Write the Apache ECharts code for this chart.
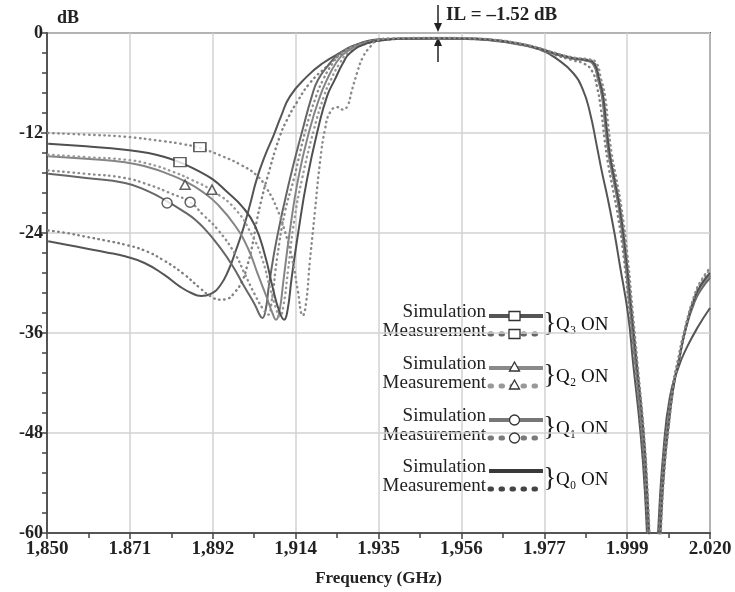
<!DOCTYPE html>
<html>
<head>
<meta charset="utf-8">
<script src="https://cdn.jsdelivr.net/npm/echarts@6/dist/echarts.min.js"></script>
<style>html,body{margin:0;padding:0;background:#fff;}#chart{width:735px;height:592px;}</style>
</head>
<body>
<div id="chart"></div>
<script>
// ---- tick labels ----
const xTickLabels = ['1,850','1.871','1,892','1,914','1.935','1,956','1.977','1.999','2.020'];
const xMin = 1.850, xMax = 2.020;
const yMin = -60, yMax = 0, yStep = 12;

// ---- series data: [frequency GHz, dB] ----
const q3Sim = [[1.8503,-13.3],[1.8600,-13.6],[1.8700,-14.0],[1.8760,-14.4],[1.8810,-15.0],[1.8850,-15.7],[1.8890,-16.6],[1.8926,-17.6],[1.8960,-19.0],[1.9000,-20.8],[1.9033,-23.1],[1.9059,-26.7],[1.9079,-30.6],[1.9095,-33.3],[1.9108,-34.4],[1.9117,-33.2],[1.9127,-29.5],[1.9144,-24.0],[1.9167,-17.5],[1.9195,-11.5],[1.9218,-7.6],[1.9238,-5.6],[1.9259,-3.6],[1.9277,-2.4],[1.9320,-1.25],[1.9370,-0.8],[1.9400,-0.7],[1.9500,-0.63],[1.9600,-0.7],[1.9650,-0.87],[1.9700,-1.2],[1.9750,-1.7],[1.9800,-2.42],[1.9850,-3.02],[1.9883,-3.25],[1.9903,-3.65],[1.9916,-5.6],[1.9926,-7.6],[1.9934,-11.0],[1.9943,-14.5],[1.9955,-17.5],[1.9969,-21.0],[1.9984,-26.5],[1.9998,-33.0],[2.0013,-40.0],[2.0029,-47.6],[2.0039,-55.0],[2.0048,-66],[2.0058,-85],[2.0068,-66],[2.0074,-59],[2.0083,-52],[2.0094,-47],[2.0107,-42.3],[2.0120,-39.4],[2.0138,-35.4],[2.0162,-31.6],[2.0180,-30.0],[2.0200,-28.8]];
const q3Meas = [[1.8503,-12.0],[1.8600,-12.2],[1.8700,-12.45],[1.8800,-13.0],[1.8850,-13.35],[1.8892,-13.8],[1.8950,-14.8],[1.9000,-15.9],[1.9038,-17.1],[1.9064,-18.7],[1.9090,-21.1],[1.9110,-23.8],[1.9130,-27.4],[1.9143,-30.9],[1.9156,-33.9],[1.9164,-32.5],[1.9174,-27.4],[1.9187,-21.4],[1.9200,-15.5],[1.9213,-11.5],[1.9226,-9.5],[1.9244,-8.9],[1.9259,-9.2],[1.9272,-8.6],[1.9280,-7.2],[1.9295,-4.8],[1.9310,-2.9],[1.9328,-1.7],[1.9346,-0.9],[1.9380,-0.66],[1.9500,-0.6],[1.9600,-0.66],[1.9650,-0.83],[1.9700,-1.15],[1.9750,-1.65],[1.9800,-2.35],[1.9850,-2.95],[1.9887,-3.15],[1.9907,-3.5],[1.9921,-5.6],[1.9931,-7.6],[1.9939,-11.0],[1.9948,-14.5],[1.9960,-17.5],[1.9973,-21.0],[1.9988,-26.5],[2.0001,-33.0],[2.0015,-40.0],[2.0030,-47.6],[2.0040,-55.0],[2.0049,-66],[2.0059,-85],[2.0069,-66],[2.0075,-59],[2.0084,-52],[2.0095,-47],[2.0108,-42.0],[2.0121,-39.0],[2.0139,-35.0],[2.0162,-31.2],[2.0180,-29.5],[2.0200,-28.2]];
const q2Sim = [[1.8503,-14.8],[1.8600,-15.1],[1.8700,-15.5],[1.8760,-16.1],[1.8810,-16.9],[1.8854,-17.8],[1.8900,-19.1],[1.8938,-20.6],[1.8982,-23.1],[1.9015,-25.8],[1.9041,-29.0],[1.9064,-31.8],[1.9078,-33.6],[1.9087,-34.4],[1.9096,-33.4],[1.9106,-29.8],[1.9122,-24.0],[1.9144,-17.5],[1.9174,-11.5],[1.9200,-7.6],[1.9218,-5.6],[1.9241,-3.6],[1.9264,-2.4],[1.9310,-1.3],[1.9360,-0.82],[1.9400,-0.7],[1.9500,-0.64],[1.9600,-0.7],[1.9650,-0.88],[1.9700,-1.22],[1.9750,-1.72],[1.9800,-2.45],[1.9850,-3.05],[1.9881,-3.28],[1.9901,-3.7],[1.9914,-5.6],[1.9924,-7.6],[1.9932,-11.0],[1.9941,-14.5],[1.9953,-17.5],[1.9967,-21.0],[1.9982,-26.5],[1.9996,-33.0],[2.0011,-40.0],[2.0027,-47.6],[2.0038,-55.0],[2.0047,-66],[2.0057,-85],[2.0067,-66],[2.0073,-59],[2.0082,-52],[2.0093,-47],[2.0106,-42.4],[2.0119,-39.5],[2.0137,-35.6],[2.0161,-31.8],[2.0180,-30.2],[2.0200,-29.0]];
const q2Meas = [[1.8503,-14.6],[1.8600,-14.9],[1.8700,-15.2],[1.8760,-15.7],[1.8820,-16.6],[1.8870,-17.6],[1.8923,-18.9],[1.8982,-21.1],[1.9026,-24.3],[1.9051,-27.0],[1.9072,-30.6],[1.9087,-33.0],[1.9097,-34.0],[1.9106,-32.8],[1.9118,-28.5],[1.9134,-22.5],[1.9154,-17.5],[1.9185,-11.5],[1.9210,-7.6],[1.9228,-5.6],[1.9251,-3.6],[1.9272,-2.4],[1.9320,-1.25],[1.9370,-0.8],[1.9400,-0.7],[1.9500,-0.6],[1.9600,-0.68],[1.9650,-0.85],[1.9700,-1.18],[1.9750,-1.68],[1.9800,-2.4],[1.9850,-3.0],[1.9884,-3.2],[1.9904,-3.6],[1.9917,-5.6],[1.9927,-7.6],[1.9935,-11.0],[1.9944,-14.5],[1.9956,-17.5],[1.9970,-21.0],[1.9985,-26.5],[1.9999,-33.0],[2.0013,-40.0],[2.0029,-47.6],[2.0039,-55.0],[2.0048,-66],[2.0058,-85],[2.0068,-66],[2.0074,-59],[2.0083,-52],[2.0094,-47],[2.0107,-42.2],[2.0120,-39.2],[2.0138,-35.2],[2.0162,-31.4],[2.0180,-29.7],[2.0200,-28.4]];
const q1Sim = [[1.8503,-16.9],[1.8600,-17.4],[1.8700,-18.0],[1.8760,-19.0],[1.8808,-20.2],[1.8850,-21.4],[1.8880,-22.4],[1.8910,-23.8],[1.8938,-25.4],[1.8974,-27.8],[1.9008,-30.6],[1.9033,-32.6],[1.9045,-33.8],[1.9052,-34.2],[1.9060,-33.4],[1.9070,-30.0],[1.9090,-24.5],[1.9123,-17.5],[1.9156,-11.5],[1.9179,-7.6],[1.9195,-5.6],[1.9226,-3.6],[1.9251,-2.4],[1.9300,-1.3],[1.9350,-0.85],[1.9400,-0.72],[1.9500,-0.66],[1.9600,-0.72],[1.9650,-0.9],[1.9700,-1.25],[1.9750,-1.75],[1.9800,-2.5],[1.9850,-3.1],[1.9880,-3.3],[1.9900,-3.7],[1.9913,-5.6],[1.9923,-7.6],[1.9931,-11.0],[1.9940,-14.5],[1.9952,-17.5],[1.9966,-21.0],[1.9981,-26.5],[1.9995,-33.0],[2.0010,-40.0],[2.0026,-47.6],[2.0037,-55.0],[2.0046,-66],[2.0056,-85],[2.0066,-66],[2.0072,-59],[2.0081,-52],[2.0092,-47],[2.0105,-42.6],[2.0118,-39.7],[2.0136,-35.8],[2.0161,-32.2],[2.0180,-30.6],[2.0200,-29.4]];
const q1Meas = [[1.8503,-16.5],[1.8600,-16.9],[1.8700,-17.4],[1.8760,-18.2],[1.8820,-19.3],[1.8867,-20.3],[1.8900,-21.8],[1.8938,-23.6],[1.8982,-26.5],[1.9008,-29.0],[1.9033,-31.4],[1.9055,-33.2],[1.9067,-33.8],[1.9076,-32.2],[1.9090,-27.0],[1.9110,-21.5],[1.9133,-17.5],[1.9164,-11.5],[1.9190,-7.6],[1.9208,-5.6],[1.9233,-3.6],[1.9256,-2.4],[1.9305,-1.3],[1.9355,-0.85],[1.9400,-0.7],[1.9500,-0.62],[1.9600,-0.7],[1.9650,-0.88],[1.9700,-1.2],[1.9750,-1.7],[1.9800,-2.45],[1.9850,-3.05],[1.9882,-3.25],[1.9902,-3.7],[1.9915,-5.6],[1.9925,-7.6],[1.9933,-11.0],[1.9942,-14.5],[1.9954,-17.5],[1.9968,-21.0],[1.9983,-26.5],[1.9997,-33.0],[2.0012,-40.0],[2.0028,-47.6],[2.0038,-55.0],[2.0047,-66],[2.0057,-85],[2.0067,-66],[2.0073,-59],[2.0082,-52],[2.0093,-47],[2.0106,-42.5],[2.0119,-39.5],[2.0137,-35.6],[2.0161,-31.9],[2.0180,-30.2],[2.0200,-28.9]];
const q0Sim = [[1.8503,-25.0],[1.8550,-25.4],[1.8600,-25.85],[1.8650,-26.3],[1.8700,-26.8],[1.8750,-27.6],[1.8800,-29.0],[1.8840,-30.4],[1.8870,-31.2],[1.8895,-31.55],[1.8920,-31.3],[1.8944,-30.3],[1.8965,-28.5],[1.8985,-26.0],[1.9003,-23.5],[1.9020,-20.7],[1.9038,-17.5],[1.9060,-14.6],[1.9080,-12.4],[1.9100,-10.0],[1.9123,-7.6],[1.9167,-5.2],[1.9208,-3.6],[1.9251,-2.4],[1.9310,-1.1],[1.9354,-0.75],[1.9400,-0.68],[1.9500,-0.65],[1.9600,-0.75],[1.9650,-0.95],[1.9700,-1.3],[1.9764,-2.0],[1.9810,-3.2],[1.9849,-4.8],[1.9874,-6.8],[1.9892,-9.5],[1.9910,-13.6],[1.9923,-16.7],[1.9938,-19.9],[1.9955,-24.0],[1.9969,-27.9],[1.9990,-33.8],[2.0003,-39.7],[2.0021,-47.6],[2.0033,-55.0],[2.0043,-66],[2.0053,-85],[2.0062,-66],[2.0068,-59],[2.0080,-50.5],[2.0097,-43.7],[2.0120,-40.0],[2.0141,-37.7],[2.0170,-35.2],[2.0200,-33.0]];
const q0Meas = [[1.8503,-23.7],[1.8550,-24.0],[1.8600,-24.45],[1.8650,-24.9],[1.8700,-25.4],[1.8750,-26.1],[1.8800,-27.3],[1.8850,-28.9],[1.8892,-30.6],[1.8920,-31.6],[1.8944,-32.0],[1.8962,-31.9],[1.8980,-31.2],[1.9000,-29.8],[1.9013,-28.0],[1.9026,-25.6],[1.9038,-22.5],[1.9050,-20.0],[1.9064,-17.5],[1.9097,-12.4],[1.9120,-10.0],[1.9141,-8.3],[1.9174,-6.0],[1.9218,-4.0],[1.9259,-2.4],[1.9300,-1.5],[1.9336,-1.1],[1.9392,-0.72],[1.9500,-0.66],[1.9600,-0.74],[1.9650,-0.92],[1.9700,-1.28],[1.9750,-1.8],[1.9800,-2.6],[1.9850,-3.3],[1.9878,-3.7],[1.9898,-4.6],[1.9910,-6.4],[1.9920,-9.0],[1.9929,-12.5],[1.9938,-15.5],[1.9950,-18.5],[1.9964,-22.0],[1.9979,-27.0],[1.9993,-33.2],[2.0008,-40.2],[2.0024,-47.8],[2.0035,-55.0],[2.0044,-66],[2.0054,-85],[2.0064,-66],[2.0070,-59],[2.0079,-52],[2.0090,-47],[2.0103,-42.6],[2.0116,-39.6],[2.0135,-35.6],[2.0160,-31.8],[2.0180,-30.4],[2.0200,-29.2]];

// ---- marker positions on the curves ----
const q3SimMarker = [[1.8841,-15.5]];
const q3MeasMarker = [[1.8892,-13.7]];
const q2SimMarker = [[1.8854,-18.2]];
const q2MeasMarker = [[1.8923,-18.8]];
const q1SimMarker = [[1.8808,-20.4]];
const q1MeasMarker = [[1.8867,-20.3]];

const FONT = "'Liberation Serif','Times New Roman',serif";
const chart = echarts.init(document.getElementById('chart'), null, {renderer:'canvas'});

function lineSeries(name, data, color, dotted, width) {
  return {
    name, type:'line', data, xAxisIndex:1, yAxisIndex:0,
    symbol:'none', showSymbol:false, smooth:0.5, clip:true, animation:false,
    lineStyle: dotted
      ? {color, width: width || 2.4, type:[0.5, 4.6], cap:'round'}
      : {color, width: width || 2}
  };
}
function markerSeries(data, symbol, size) {
  return {
    type:'scatter', data, xAxisIndex:1, yAxisIndex:0, symbol, symbolSize:size,
    itemStyle:{color:'#fff', borderColor:'#3a3a3a', borderWidth:1.5}, z:5, animation:false, silent:true
  };
}

// ---- legend (layout only) ----
const legendGroups = [
  {sub:'₃', top:312, simColor:'#555', measColor:'#666', mark:'rect'},
  {sub:'₂', top:364, simColor:'#8a8a8a', measColor:'#999', mark:'tri'},
  {sub:'₁', top:416, simColor:'#777', measColor:'#7a7a7a', mark:'circle'},
  {sub:'₀', top:467, simColor:'#3a3a3a', measColor:'#444', mark:null}
];
const graphics = [];
legendGroups.forEach(g => {
  const ySim = g.top, yMeas = g.top + 19;
  graphics.push({type:'text', x:486, y:ySim, style:{text:'Simulation', font:`19px ${FONT}`, fill:'#222', align:'right', verticalAlign:'middle'}});
  graphics.push({type:'text', x:486, y:yMeas, style:{text:'Measurement', font:`19px ${FONT}`, fill:'#222', align:'right', verticalAlign:'middle'}});
  graphics.push({type:'line', shape:{x1:489, y1:ySim+4, x2:543, y2:ySim+4}, style:{stroke:g.simColor, lineWidth:4}});
  graphics.push({type:'line', shape:{x1:490, y1:yMeas+3, x2:543, y2:yMeas+3}, style:{stroke:g.measColor, lineWidth:5, lineDash:[1.5,9.5], lineCap:'round'}});
  [[ySim+4],[yMeas+3]].forEach(([yy]) => {
    if (g.mark === 'rect') graphics.push({type:'rect', shape:{x:509, y:yy-4.5, width:11, height:9}, style:{fill:'#fff', stroke:'#333', lineWidth:1.3}, z:10});
    if (g.mark === 'tri') graphics.push({type:'polygon', shape:{points:[[514.5,yy-6],[509.5,yy+3],[519.5,yy+3]]}, style:{fill:'#fff', stroke:'#333', lineWidth:1.3}, z:10});
    if (g.mark === 'circle') graphics.push({type:'circle', shape:{cx:514.5, cy:yy, r:5}, style:{fill:'#fff', stroke:'#333', lineWidth:1.3}, z:10});
  });
  graphics.push({type:'text', x:543, y:g.top+12, style:{text:'}', font:`28px ${FONT}`, fill:'#222', verticalAlign:'middle'}});
  graphics.push({type:'text', x:556, y:g.top+13, style:{text:'Q'+g.sub+' ON', font:`19px ${FONT}`, fill:'#111', verticalAlign:'middle'}});
});
// title-like texts and IL annotation
graphics.push({type:'text', x:57, y:18, style:{text:'dB', font:`bold 18px ${FONT}`, fill:'#222', verticalAlign:'middle'}});
graphics.push({type:'text', x:446, y:15, style:{text:'IL = –1.52 dB', font:`bold 19px ${FONT}`, fill:'#222', verticalAlign:'middle'}});
graphics.push({type:'line', shape:{x1:438, y1:5, x2:438, y2:26}, style:{stroke:'#222', lineWidth:1.5}});
graphics.push({type:'polygon', shape:{points:[[434,23],[442,23],[438,32]]}, style:{fill:'#222'}});
graphics.push({type:'line', shape:{x1:438, y1:44, x2:438, y2:62}, style:{stroke:'#222', lineWidth:1.5}});
graphics.push({type:'polygon', shape:{points:[[434,46],[442,46],[438,37]]}, style:{fill:'#222'}});

const option = {
  backgroundColor:'#fff',
  animation:false,
  grid:{left:47, right:25, top:33, bottom:54, show:true, borderColor:'#5a5a5a', borderWidth:2, backgroundColor:'transparent'},
  xAxis:[
    {type:'value', min:0, max:xTickLabels.length-1, interval:1, position:'bottom',
     axisLine:{show:true, onZero:false, lineStyle:{color:'#555', width:2}},
     axisTick:{show:true, length:6, lineStyle:{color:'#444', width:1.5}},
     minorTick:{show:true, splitNumber:2, length:5, lineStyle:{color:'#444', width:1.5}},
     splitLine:{show:true, lineStyle:{color:'#d2d2d2', width:1.5}},
     axisLabel:{formatter:v => xTickLabels[Math.round(v)], fontFamily:FONT, fontWeight:'bold', fontSize:19, color:'#222', margin:7},
     name:'Frequency (GHz)', nameLocation:'middle', nameGap:37,
     nameTextStyle:{fontFamily:FONT, fontWeight:'bold', fontSize:17, color:'#222'}},
    {type:'value', min:xMin, max:xMax, show:false}
  ],
  yAxis:[
    {type:'value', min:yMin, max:yMax, interval:yStep,
     axisLine:{show:true, onZero:false, lineStyle:{color:'#555', width:2}},
     axisTick:{show:true, length:6, lineStyle:{color:'#444', width:1.5}},
     minorTick:{show:true, splitNumber:5, length:5, lineStyle:{color:'#444', width:1.5}},
     splitLine:{show:true, lineStyle:{color:'#d2d2d2', width:1.5}},
     axisLabel:{formatter:v => String(v), fontFamily:FONT, fontWeight:'bold', fontSize:18, color:'#222', margin:4}}
  ],
  series:[
    lineSeries('Q0 Simulation', q0Sim, '#555555', false),
    lineSeries('Q0 Measurement', q0Meas, '#808080', true),
    lineSeries('Q1 Simulation', q1Sim, '#666666', false),
    lineSeries('Q1 Measurement', q1Meas, '#8c8c8c', true),
    lineSeries('Q2 Simulation', q2Sim, '#858585', false),
    lineSeries('Q2 Measurement', q2Meas, '#999999', true),
    lineSeries('Q3 Simulation', q3Sim, '#505050', false),
    lineSeries('Q3 Measurement', q3Meas, '#8a8a8a', true),
    markerSeries(q3SimMarker, 'rect', [12,9]),
    markerSeries(q3MeasMarker, 'rect', [12,9]),
    markerSeries(q2SimMarker, 'triangle', [10,9]),
    markerSeries(q2MeasMarker, 'triangle', [10,9]),
    markerSeries(q1SimMarker, 'circle', 10),
    markerSeries(q1MeasMarker, 'circle', 10)
  ],
  graphic: graphics
};
chart.setOption(option);
</script>
</body>
</html>
